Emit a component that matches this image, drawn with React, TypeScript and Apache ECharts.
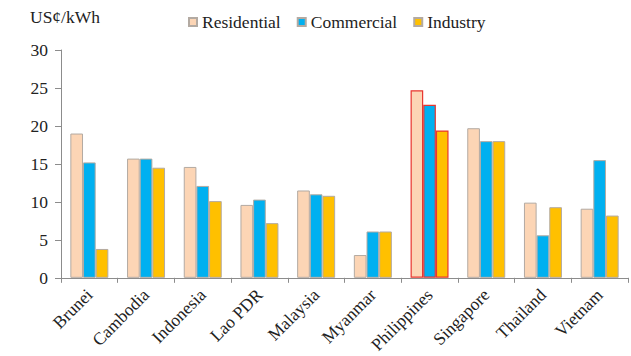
import React, { useEffect, useRef } from "react";
import * as echarts from "echarts";

const categories = ["Brunei", "Cambodia", "Indonesia", "Lao PDR", "Malaysia", "Myanmar", "Philippines", "Singapore", "Thailand", "Vietnam"];
const residential = [19.0, 15.7, 14.6, 9.6, 11.5, 3.0, 24.7, 19.7, 9.9, 9.1];
const commercial = [15.2, 15.7, 12.1, 10.3, 11.0, 6.1, 22.8, 18.0, 5.6, 15.5];
const industry = [3.8, 14.5, 10.1, 7.2, 10.8, 6.1, 19.4, 18.0, 9.3, 8.2];
const seriesNames = ["Residential", "Commercial", "Industry"];
const highlightCategory = "Philippines";

const FONT = "Liberation Serif";
const colors = ["#FCD5B5", "#00B0F0", "#FFC000"];

export default function App() {
  const ref = useRef<HTMLDivElement>(null);
  useEffect(() => {
    if (!ref.current) return;
    const chart = echarts.init(ref.current, undefined, { renderer: "svg" });
    const mk = (vals: number[], i: number) => ({
      name: seriesNames[i],
      type: "bar",
      barGap: "0%",
      barCategoryGap: "33%",
      itemStyle: { color: colors[i], borderColor: "#b3aaa2", borderWidth: 1 },
      data: vals.map((v, k) =>
        categories[k] === highlightCategory
          ? { value: v, itemStyle: { borderColor: "#e8362f", borderWidth: 1.2 } }
          : v
      ),
    });
    chart.setOption({
      animation: false,
      textStyle: { fontFamily: FONT },
      grid: { left: 61, right: 3, top: 50, bottom: 78 },
      legend: {
        left: 183,
        top: 8,
        itemWidth: 8,
        itemHeight: 8,
        itemGap: 16,
        icon: "rect",
        textStyle: { fontFamily: FONT, fontSize: 17.5, color: "#222" },
        data: seriesNames,
      },
      graphic: [
        {
          type: "text",
          left: 30,
          top: 8,
          style: { text: "US¢/kWh", fontFamily: FONT, fontSize: 17.5, fill: "#222" },
        },
      ],
      xAxis: {
        type: "category",
        data: categories,
        axisLine: { lineStyle: { color: "#8c8c8c" } },
        axisTick: { show: true, length: 5, lineStyle: { color: "#8c8c8c" } },
        axisLabel: { interval: 0, rotate: 45, fontFamily: FONT, fontSize: 17.5, color: "#222", margin: 14 },
      },
      yAxis: {
        type: "value",
        min: 0,
        max: 30,
        interval: 5,
        splitLine: { show: false },
        axisLine: { show: true, lineStyle: { color: "#8c8c8c" } },
        axisTick: { show: true, length: 6, lineStyle: { color: "#8c8c8c" } },
        axisLabel: { fontFamily: FONT, fontSize: 17.5, color: "#222", margin: 13 },
      },
      series: [mk(residential, 0), mk(commercial, 1), mk(industry, 2)],
    });
    return () => chart.dispose();
  }, []);
  return <div ref={ref} style={{ position: "fixed", left: 0, top: 0, width: 631, height: 356, background: "#fff" }} />;
}
